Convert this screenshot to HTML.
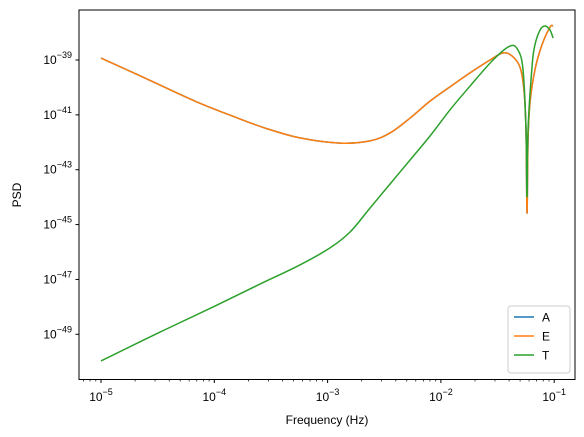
<!DOCTYPE html>
<html><head><meta charset="utf-8"><style>
body{margin:0;background:#fff}
svg{display:block;font-family:"Liberation Sans","DejaVu Sans",sans-serif}
</style></head><body>
<svg id="chart" width="584" height="437">
<rect x="0" y="0" width="584" height="437" fill="#fff"/>
<g id="plot"></g>
<rect x="79" y="10" width="496" height="369.5" fill="none" stroke="#000" stroke-width="1"/>
<g id="xt"></g><g id="yt"></g>
<text x="327" y="424" font-size="12" text-anchor="middle">Frequency (Hz)</text>
<text x="21" y="195" font-size="12" text-anchor="middle" transform="rotate(-90 21 195)">PSD</text>
<g>
<rect x="508" y="306" width="62" height="67" rx="3" fill="#fff" fill-opacity="0.8" stroke="#ccc"/>
<line x1="514" y1="317" x2="534" y2="317" stroke="#1f77b4" stroke-width="1.5"/>
<text x="542" y="321.5" font-size="12">A</text>
<line x1="514" y1="336" x2="534" y2="336" stroke="#ff7f0e" stroke-width="1.5"/>
<text x="542" y="340.5" font-size="12">E</text>
<line x1="514" y1="355" x2="534" y2="355" stroke="#2ca02c" stroke-width="1.5"/>
<text x="542" y="359.5" font-size="12">T</text>
</g>
</svg>
<script>
const aeLogF=[-5,-4.612,-4.170,-3.817,-3.553,-3.244,-2.891,-2.626,-2.449,-2.273,-2.096,-1.92,-1.743,-1.567,-1.452,-1.372,-1.302,-1.267,-1.249,-1.24,-1.231,-1.214,-1.170,-1.108,-1.037,-1.01];
const aeLogPSD=[-38.93,-39.66,-40.50,-41.08,-41.48,-41.84,-42.03,-41.95,-41.66,-41.12,-40.50,-39.98,-39.47,-39.0,-38.74,-38.85,-39.26,-40.09,-41.55,-44.58,-41.92,-40.57,-39.36,-38.45,-37.80,-37.76];
const tLogF=[-5,-4.479,-3.994,-3.597,-3.244,-2.979,-2.802,-2.626,-2.449,-2.273,-2.096,-1.92,-1.743,-1.540,-1.39,-1.319,-1.275,-1.249,-1.24,-1.231,-1.196,-1.17,-1.125,-1.081,-1.037,-1.01];
const tLogPSD=[-49.97,-48.92,-47.97,-47.17,-46.47,-45.85,-45.27,-44.40,-43.52,-42.65,-41.77,-40.82,-39.95,-39.0,-38.49,-38.64,-39.36,-41.55,-43.99,-41.55,-39.26,-38.45,-37.91,-37.76,-37.91,-38.20];
const xTickExps=[-5,-4,-3,-2,-1];
const yTickExps=[-39,-41,-43,-45,-47,-49];
const NS="http://www.w3.org/2000/svg";
function xs(l){return 101+(l+5)*113.3;}
function ys(l){return 60-(l+39)*27.43;}
function path(lf,lp,color,name){
  const pts=lf.map((v,i)=>[xs(v),ys(lp[i])]);
  let d='M'+pts[0][0].toFixed(2)+' '+pts[0][1].toFixed(2);
  for(let i=0;i<pts.length-1;i++){
    const p0=pts[Math.max(i-1,0)],p1=pts[i],p2=pts[i+1],p3=pts[Math.min(i+2,pts.length-1)];
    const k=1/6;
    const c1=[p1[0]+(p2[0]-p0[0])*k,p1[1]+(p2[1]-p0[1])*k];
    const c2=[p2[0]-(p3[0]-p1[0])*k,p2[1]-(p3[1]-p1[1])*k];
    d+=`C${c1[0].toFixed(2)} ${c1[1].toFixed(2)} ${c2[0].toFixed(2)} ${c2[1].toFixed(2)} ${p2[0].toFixed(2)} ${p2[1].toFixed(2)}`;
  }
  const p=document.createElementNS(NS,'path');
  p.setAttribute('d',d);
  p.setAttribute('fill','none');p.setAttribute('stroke',color);p.setAttribute('stroke-width','1.5');p.setAttribute('stroke-linejoin','round');
  
  
  document.getElementById('plot').appendChild(p);
}
path(aeLogF,aeLogPSD,'#1f77b4','series-a');
path(aeLogF,aeLogPSD,'#ff7f0e','series-e');
path(tLogF,tLogPSD,'#2ca02c','series-t');
const xt=document.getElementById('xt');
function minor(m){const l=document.createElementNS(NS,'line');l.setAttribute('x1',m);l.setAttribute('x2',m);l.setAttribute('y1',379.5);l.setAttribute('y2',381.5);l.setAttribute('stroke','#000');l.setAttribute('stroke-width','0.7');xt.appendChild(l);}
xTickExps.forEach(e=>{
  const x=xs(e);
  const t=document.createElementNS(NS,'g');
  
  
  t.innerHTML=`<line x1="${x}" y1="379.5" x2="${x}" y2="383" stroke="#000"/><text x="${x}" y="401" font-size="12" text-anchor="middle">10<tspan font-size="9" dy="-6">\u2212${-e}</tspan></text>`;
  xt.appendChild(t);
  for(let k=2;k<10;k++){const m=xs(e+Math.log10(k));if(m<575&&m>79)minor(m);}
  if(e===-5){for(let k=2;k<10;k++){const m=xs(e-1+Math.log10(k));if(m>79)minor(m);}}
});
const yt=document.getElementById('yt');
yTickExps.forEach(e=>{
  const y=ys(e);
  const t=document.createElementNS(NS,'g');
  
  
  t.innerHTML=`<line x1="75.5" y1="${y}" x2="79" y2="${y}" stroke="#000"/><text x="72" y="${y+4}" font-size="12" text-anchor="end">10<tspan font-size="9" dy="-6">\u2212${-e}</tspan></text>`;
  yt.appendChild(t);
});
</script>
</body></html>
